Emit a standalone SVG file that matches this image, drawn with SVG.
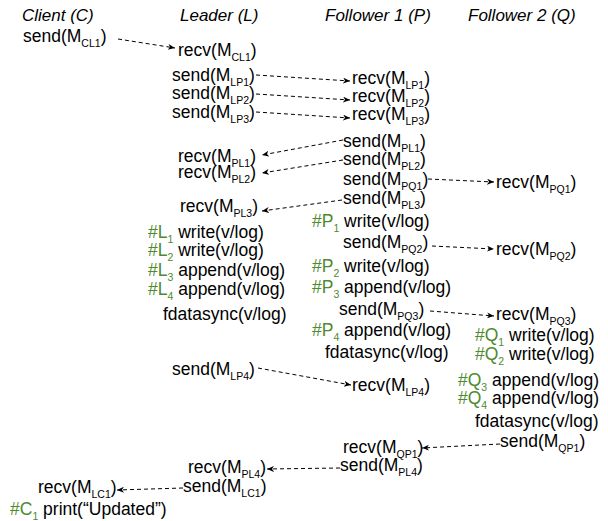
<svg xmlns="http://www.w3.org/2000/svg" width="608" height="521" viewBox="0 0 608 521">
<style>
text{font-family:"Liberation Sans",Arial,sans-serif;font-size:17.5px;fill:#000}
.h{font-style:italic;font-size:17px}
.s{font-size:10.5px}
.g{fill:#4e8a2e}
.c{fill:none;stroke:#000;stroke-width:1;stroke-dasharray:4 3;marker-end:url(#ah)}
</style>
<defs>
<marker id="ah" markerUnits="userSpaceOnUse" markerWidth="8" markerHeight="8" refX="7" refY="3" orient="auto">
<path d="M0,0 L7,3 L0,6 L2,3 z" fill="#000"/>
</marker>
</defs>
<rect width="608" height="521" fill="#fff"/>
<g id="headers">
<text class="h" x="22" y="21">Client (C)</text>
<text class="h" x="180" y="21">Leader (L)</text>
<text class="h" x="325" y="21">Follower 1 (P)</text>
<text class="h" x="468" y="21">Follower 2 (Q)</text>
</g>
<g id="connectors">
<line class="c" x1="118" y1="39" x2="175" y2="48"/>
<line class="c" x1="256" y1="75" x2="350" y2="81"/>
<line class="c" x1="256" y1="94" x2="350" y2="100"/>
<line class="c" x1="256" y1="112" x2="350" y2="118"/>
<line class="c" x1="343" y1="140" x2="262" y2="155"/>
<line class="c" x1="343" y1="160" x2="262" y2="173"/>
<line class="c" x1="428" y1="179" x2="494" y2="182"/>
<line class="c" x1="342" y1="200" x2="262" y2="211"/>
<line class="c" x1="432" y1="246" x2="494" y2="249"/>
<line class="c" x1="430" y1="311" x2="494" y2="316"/>
<line class="c" x1="258" y1="368" x2="351" y2="385"/>
<line class="c" x1="500" y1="444" x2="422" y2="448"/>
<line class="c" x1="340" y1="468" x2="267" y2="469"/>
<line class="c" x1="183" y1="488" x2="117" y2="490"/>
</g>
<g id="c_send_CL1"><text x="23" y="42">send(M<tspan class="s" dy="5">CL1</tspan><tspan dy="-5">)</tspan></text></g>
<g id="l_recv_CL1"><text x="178" y="56">recv(M<tspan class="s" dy="5">CL1</tspan><tspan dy="-5">)</tspan></text></g>
<g id="l_send_LP1"><text x="172" y="81">send(M<tspan class="s" dy="5">LP1</tspan><tspan dy="-5">)</tspan></text></g>
<g id="l_send_LP2"><text x="172" y="99">send(M<tspan class="s" dy="5">LP2</tspan><tspan dy="-5">)</tspan></text></g>
<g id="l_send_LP3"><text x="172" y="118">send(M<tspan class="s" dy="5">LP3</tspan><tspan dy="-5">)</tspan></text></g>
<g id="p_recv_LP1"><text x="352" y="84">recv(M<tspan class="s" dy="5">LP1</tspan><tspan dy="-5">)</tspan></text></g>
<g id="p_recv_LP2"><text x="352" y="102">recv(M<tspan class="s" dy="5">LP2</tspan><tspan dy="-5">)</tspan></text></g>
<g id="p_recv_LP3"><text x="352" y="120">recv(M<tspan class="s" dy="5">LP3</tspan><tspan dy="-5">)</tspan></text></g>
<g id="p_send_PL1"><text x="343" y="147">send(M<tspan class="s" dy="5">PL1</tspan><tspan dy="-5">)</tspan></text></g>
<g id="p_send_PL2"><text x="343" y="165">send(M<tspan class="s" dy="5">PL2</tspan><tspan dy="-5">)</tspan></text></g>
<g id="p_send_PQ1"><text x="343" y="185">send(M<tspan class="s" dy="5">PQ1</tspan><tspan dy="-5">)</tspan></text></g>
<g id="p_send_PL3"><text x="343" y="204">send(M<tspan class="s" dy="5">PL3</tspan><tspan dy="-5">)</tspan></text></g>
<g id="l_recv_PL1"><text x="178" y="162">recv(M<tspan class="s" dy="5">PL1</tspan><tspan dy="-5">)</tspan></text></g>
<g id="l_recv_PL2"><text x="178" y="178">recv(M<tspan class="s" dy="5">PL2</tspan><tspan dy="-5">)</tspan></text></g>
<g id="l_recv_PL3"><text x="180" y="212">recv(M<tspan class="s" dy="5">PL3</tspan><tspan dy="-5">)</tspan></text></g>
<g id="q_recv_PQ1"><text x="496" y="188">recv(M<tspan class="s" dy="5">PQ1</tspan><tspan dy="-5">)</tspan></text></g>
<g id="p_P1"><text x="312" y="227"><tspan class="g">#P</tspan><tspan class="s g" dy="5">1</tspan><tspan dy="-5"> write(v/log)</tspan></text></g>
<g id="p_send_PQ2"><text x="343" y="248">send(M<tspan class="s" dy="5">PQ2</tspan><tspan dy="-5">)</tspan></text></g>
<g id="q_recv_PQ2"><text x="496" y="255">recv(M<tspan class="s" dy="5">PQ2</tspan><tspan dy="-5">)</tspan></text></g>
<g id="l_L1"><text x="148" y="238"><tspan class="g">#L</tspan><tspan class="s g" dy="5">1</tspan><tspan dy="-5"> write(v/log)</tspan></text></g>
<g id="l_L2"><text x="148" y="256"><tspan class="g">#L</tspan><tspan class="s g" dy="5">2</tspan><tspan dy="-5"> write(v/log)</tspan></text></g>
<g id="l_L3"><text x="148" y="276"><tspan class="g">#L</tspan><tspan class="s g" dy="5">3</tspan><tspan dy="-5"> append(v/log)</tspan></text></g>
<g id="l_L4"><text x="148" y="295"><tspan class="g">#L</tspan><tspan class="s g" dy="5">4</tspan><tspan dy="-5"> append(v/log)</tspan></text></g>
<g id="l_fdatasync"><text x="163" y="320">fdatasync(v/log)</text></g>
<g id="p_P2"><text x="312" y="272"><tspan class="g">#P</tspan><tspan class="s g" dy="5">2</tspan><tspan dy="-5"> write(v/log)</tspan></text></g>
<g id="p_P3"><text x="312" y="293"><tspan class="g">#P</tspan><tspan class="s g" dy="5">3</tspan><tspan dy="-5"> append(v/log)</tspan></text></g>
<g id="p_send_PQ3"><text x="339" y="315">send(M<tspan class="s" dy="5">PQ3</tspan><tspan dy="-5">)</tspan></text></g>
<g id="p_P4"><text x="312" y="336"><tspan class="g">#P</tspan><tspan class="s g" dy="5">4</tspan><tspan dy="-5"> append(v/log)</tspan></text></g>
<g id="p_fdatasync"><text x="325" y="358">fdatasync(v/log)</text></g>
<g id="l_send_LP4"><text x="172" y="375">send(M<tspan class="s" dy="5">LP4</tspan><tspan dy="-5">)</tspan></text></g>
<g id="p_recv_LP4"><text x="352" y="391">recv(M<tspan class="s" dy="5">LP4</tspan><tspan dy="-5">)</tspan></text></g>
<g id="q_recv_PQ3"><text x="496" y="320">recv(M<tspan class="s" dy="5">PQ3</tspan><tspan dy="-5">)</tspan></text></g>
<g id="q_Q1"><text x="475" y="341"><tspan class="g">#Q</tspan><tspan class="s g" dy="5">1</tspan><tspan dy="-5"> write(v/log)</tspan></text></g>
<g id="q_Q2"><text x="475" y="360"><tspan class="g">#Q</tspan><tspan class="s g" dy="5">2</tspan><tspan dy="-5"> write(v/log)</tspan></text></g>
<g id="q_Q3"><text x="458" y="386"><tspan class="g">#Q</tspan><tspan class="s g" dy="5">3</tspan><tspan dy="-5"> append(v/log)</tspan></text></g>
<g id="q_Q4"><text x="458" y="404"><tspan class="g">#Q</tspan><tspan class="s g" dy="5">4</tspan><tspan dy="-5"> append(v/log)</tspan></text></g>
<g id="q_fdatasync"><text x="475" y="427">fdatasync(v/log)</text></g>
<g id="q_send_QP1"><text x="500" y="447">send(M<tspan class="s" dy="5">QP1</tspan><tspan dy="-5">)</tspan></text></g>
<g id="p_recv_QP1"><text x="343" y="453">recv(M<tspan class="s" dy="5">QP1</tspan><tspan dy="-5">)</tspan></text></g>
<g id="p_send_PL4"><text x="340" y="471">send(M<tspan class="s" dy="5">PL4</tspan><tspan dy="-5">)</tspan></text></g>
<g id="l_recv_PL4"><text x="188" y="473">recv(M<tspan class="s" dy="5">PL4</tspan><tspan dy="-5">)</tspan></text></g>
<g id="l_send_LC1"><text x="183" y="492">send(M<tspan class="s" dy="5">LC1</tspan><tspan dy="-5">)</tspan></text></g>
<g id="c_recv_LC1"><text x="38" y="493">recv(M<tspan class="s" dy="5">LC1</tspan><tspan dy="-5">)</tspan></text></g>
<g id="c_C1"><text x="10" y="515"><tspan class="g">#C</tspan><tspan class="s g" dy="5">1</tspan><tspan dy="-5"> print(“Updated”)</tspan></text></g>
</svg>
